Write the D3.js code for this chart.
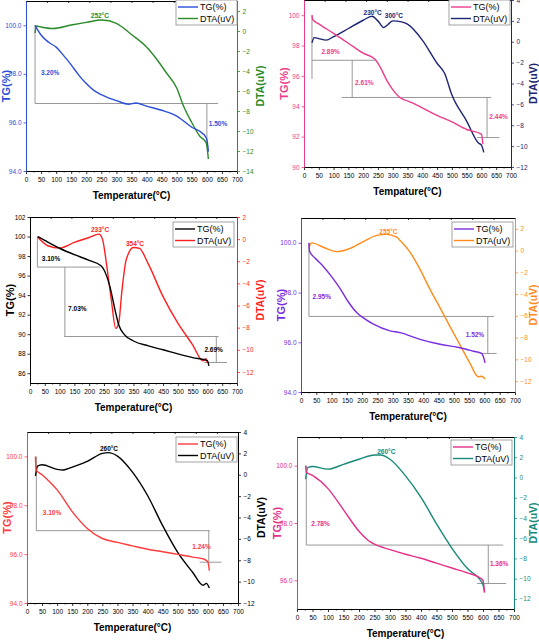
<!DOCTYPE html>
<html>
<head>
<meta charset="utf-8">
<script src="https://cdn.jsdelivr.net/npm/d3@7"></script>
<style>
  body { margin: 0; background: #fff; }
  svg { display: block; font-family: "Liberation Sans", Arial, sans-serif; }
</style>
</head>
<body>
<script>
const width = 539;
const height = 640;

// shared x ticks
const xTicks = [0, 50, 100, 150, 200, 250, 300, 350, 400, 450, 500, 550, 600, 650, 700];

// panel 1 (top left)
const tgT1 = [30, 50, 75, 100, 125, 150, 175, 200, 225, 250, 275, 300, 340, 365, 400, 450, 500, 550, 590, 600, 605];
const tg1 = [100, 99.6, 99.3, 99.1, 98.75, 98.37, 97.95, 97.6, 97.32, 97.14, 97.0, 96.9, 96.75, 96.8, 96.67, 96.5, 96.26, 95.8, 95.5, 95.3, 94.8];
const dtaT1 = [30, 35, 50, 90, 150, 200, 252, 300, 350, 400, 433, 466, 500, 521, 549, 576, 598, 605];
const dta1 = [-0.2, 0.5, 0.4, 0.25, 0.6, 0.86, 1.1, 0.76, -0.35, -1.6, -2.8, -4.2, -5.7, -7.4, -9.1, -10.5, -11.2, -12.8];
const tgTicks1 = [94, 96, 98, 100];
const dtaTicks1 = [-14, -12, -10, -8, -6, -4, -2, 0, 2];
const guides1 = [[30, 100, 30, 96.78], [30, 96.78, 637, 96.78], [600, 96.78, 600, 95.0]];
const notes1 = [["3.20%", 80, 98.05, "tg"], ["1.50%", 637, 95.96, "tg"], ["252°C", 245, 1.55, "dta"]];

// panel 2 (top right)
const tgT2 = [27, 30, 50, 100, 150, 200, 240, 260, 280, 300, 330, 350, 400, 450, 500, 550, 600, 605];
const tg2 = [100, 99.7, 99.43, 98.8, 98.15, 97.5, 97.1, 96.5, 95.7, 95.1, 94.5, 94.36, 93.9, 93.4, 92.97, 92.47, 92.16, 91.5];
const dtaT2 = [27, 34, 50, 75, 100, 150, 200, 230, 250, 270, 285, 300, 330, 350, 400, 450, 475, 500, 550, 590, 600, 608];
const dta2 = [-0.1, 0.4, 0.3, 0.16, 0.48, 1.27, 2.06, 2.44, 2.0, 1.37, 1.68, 2.0, 1.9, 1.68, 0.16, -2.06, -3.0, -5.08, -7.6, -9.7, -9.9, -10.6];
const tgTicks2 = [90, 92, 94, 96, 98, 100];
const dtaTicks2 = [-12, -10, -8, -6, -4, -2, 0, 2, 4];
const guides2 = [[27, 100, 27, 95.8], [27, 97.03, 243, 97.03], [163, 97.03, 163, 94.58], [127, 94.58, 633, 94.58], [619, 94.58, 619, 91.94], [585, 91.94, 661, 91.94]];
const notes2 = [["2.89%", 90, 97.58, "tg"], ["2.61%", 204, 95.57, "tg"], ["2.44%", 658, 93.35, "tg"], ["230°C", 232, 2.76, "dta"], ["300°C", 304, 2.5, "dta"]];

// panel 3 (middle left)
const tgT3 = [26, 50, 100, 150, 200, 240, 250, 270, 290, 300, 320, 350, 400, 450, 500, 550, 600, 605];
const tg3 = [100, 99.6, 98.8, 98.14, 97.56, 97.0, 96.6, 94.9, 92.15, 90.96, 89.93, 89.3, 88.8, 88.4, 87.98, 87.6, 87.3, 86.75];
const dtaT3 = [26, 40, 60, 100, 150, 200, 233, 245, 260, 275, 290, 300, 310, 325, 350, 370, 400, 450, 500, 550, 585, 595, 600];
const dta3 = [0.2, -0.2, -0.6, -0.8, -0.3, 0.15, 0.45, 0, -2.5, -5.5, -8.06, -7.6, -4.9, -1.9, -0.75, -0.84, -2.24, -5.2, -7.6, -9.55, -11.0, -10.8, -11.2];
const tgTicks3 = [86, 88, 90, 92, 94, 96, 98, 100, 102];
const dtaTicks3 = [-12, -10, -8, -6, -4, -2, 0, 2];
const guides3 = [[25, 100, 25, 96.87], [25, 96.87, 237, 96.87], [118, 96.87, 118, 89.76], [116, 89.76, 638, 89.76], [630, 89.76, 630, 87.1], [589, 87.1, 666, 87.1]];
const notes3 = [["3.10%", 71, 97.7, "tg"], ["7.03%", 160, 92.67, "tg"], ["2.69%", 621, 88.46, "tg"], ["233°C", 237, 0.9, "dta"], ["354°C", 355, -0.36, "dta"]];

// panel 4 (middle right)
const tgT4 = [26, 28, 46, 73, 100, 128, 155, 182, 204, 237, 291, 324, 389, 455, 520, 564, 591, 596, 602];
const tg4 = [100, 99.66, 99.39, 99.05, 98.64, 98.16, 97.62, 97.2, 96.98, 96.73, 96.46, 96.39, 96.12, 95.92, 95.78, 95.64, 95.55, 95.44, 95.17];
const dtaT4 = [26, 35, 73, 117, 155, 210, 248, 280, 313, 324, 357, 389, 422, 455, 487, 520, 553, 580, 591, 602];
const dta4 = [0.3, 0.71, 0.31, -0.09, 0.15, 0.93, 1.4, 1.49, 1.24, 0.93, -0.16, -1.7, -3.56, -5.26, -6.96, -8.67, -10.37, -11.6, -11.55, -11.8];
const tgTicks4 = [94, 96, 98, 100];
const dtaTicks4 = [-12, -10, -8, -6, -4, -2, 0, 2];
const guides4 = [[26, 100, 26, 97.04], [26, 97.04, 631, 97.04], [611, 97.04, 611, 95.55], [591, 95.55, 640, 95.55]];
const notes4 = [["2.95%", 68, 97.86, "tg"], ["1.52%", 569, 96.32, "tg"], ["255°C", 286, 1.8, "dta"]];

// panel 5 (bottom left)
const tgT5 = [28, 30, 50, 80, 100, 150, 200, 250, 300, 350, 400, 450, 500, 550, 590, 600, 605];
const tg5 = [100, 99.45, 99.25, 98.9, 98.63, 97.74, 97.05, 96.64, 96.48, 96.34, 96.2, 96.1, 95.99, 95.88, 95.78, 95.68, 95.32];
const dtaT5 = [28, 35, 50, 100, 120, 150, 200, 250, 270, 300, 350, 400, 450, 500, 550, 585, 595, 605];
const dta5 = [-0.1, 0.8, 0.94, 0.5, 0.44, 0.72, 1.25, 2.0, 2.07, 1.75, 0.25, -1.94, -4.76, -7.27, -9.15, -10.34, -10.16, -10.6];
const tgTicks5 = [94, 96, 98, 100];
const dtaTicks5 = [-12, -10, -8, -6, -4, -2, 0, 2, 4];
const guides5 = [[31, 100, 31, 96.96], [31, 96.96, 606, 96.96], [603, 96.96, 603, 95.67], [573, 95.67, 645, 95.67]];
const notes5 = [["3.10%", 83, 97.71, "tg"], ["1.24%", 579, 96.3, "tg"], ["260°C", 272, 2.45, "dta"]];

// panel 6 (bottom right)
const tgT6 = [28, 30, 50, 100, 150, 200, 230, 250, 300, 350, 400, 450, 500, 550, 590, 600, 605];
const tg6 = [100, 99.77, 99.66, 99.2, 98.46, 97.71, 97.39, 97.26, 97.07, 96.91, 96.77, 96.6, 96.43, 96.26, 96.09, 96.0, 95.57];
const dtaT6 = [28, 35, 50, 100, 150, 200, 250, 270, 300, 350, 400, 450, 500, 550, 590, 600, 605];
const dta6 = [-0.16, 1.0, 1.08, 0.82, 1.3, 1.8, 2.22, 2.22, 1.8, 0.16, -1.96, -4.58, -7.0, -9.0, -10.1, -10.6, -11.3];
const tgTicks6 = [96, 98, 100];
const dtaTicks6 = [-12, -10, -8, -6, -4, -2, 0, 2, 4];
const guides6 = [[30, 100, 30, 97.23], [30, 97.23, 665, 97.23], [617, 97.23, 617, 95.89], [581, 95.89, 675, 95.89]];
const notes6 = [["2.78%", 76, 97.97, "tg"], ["1.36%", 652, 96.57, "tg"], ["260°C", 288, 2.6, "dta"]];

// layout: plot box [left, right, top, bottom], legend offset from top right
const panels = [
  { box: [26, 237, 1, 171], tgDom: [94, 101], dtaDom: [-14, 3], tgC: "#2b4ed8", dtaC: "#2a8a2a",
    tgT: tgT1, tg: tg1, dtaT: dtaT1, dta: dta1, tgTicks: tgTicks1, dtaTicks: dtaTicks1,
    guides: guides1, notes: notes1, xTitle: "Temperature(°C)", legend: [-61, -1] },
  { box: [304, 511, 0, 167], tgDom: [90, 101], dtaDom: [-12, 4], tgC: "#ec3d8c", dtaC: "#1c2473",
    tgT: tgT2, tg: tg2, dtaT: dtaT2, dta: dta2, tgTicks: tgTicks2, dtaTicks: dtaTicks2,
    guides: guides2, notes: notes2, xTitle: "Tempature(°C)", legend: [-62, 0] },
  { box: [30, 237, 217, 383], tgDom: [85, 102], dtaDom: [-13, 2], tgC: "#000000", dtaC: "#ff1f1f",
    tgT: tgT3, tg: tg3, dtaT: dtaT3, dta: dta3, tgTicks: tgTicks3, dtaTicks: dtaTicks3,
    guides: guides3, notes: notes3, xTitle: "Temperature(°C)", legend: [-64, 5] },
  { box: [301, 515, 218, 392], tgDom: [94, 101], dtaDom: [-13, 3], tgC: "#7a2de0", dtaC: "#ff8c1a",
    tgT: tgT4, tg: tg4, dtaT: dtaT4, dta: dta4, tgTicks: tgTicks4, dtaTicks: dtaTicks4,
    guides: guides4, notes: notes4, xTitle: "Temperature(°C)", legend: [-63, 4] },
  { box: [27, 238, 432, 603], tgDom: [94, 101], dtaDom: [-12, 4], tgC: "#ff3b3b", dtaC: "#000000",
    tgT: tgT5, tg: tg5, dtaT: dtaT5, dta: dta5, tgTicks: tgTicks5, dtaTicks: dtaTicks5,
    guides: guides5, notes: notes5, xTitle: "Temperature(°C)", legend: [-62, 5] },
  { box: [297, 514, 437, 609], tgDom: [95, 101], dtaDom: [-13, 4], tgC: "#e6308a", dtaC: "#168a78",
    tgT: tgT6, tg: tg6, dtaT: dtaT6, dta: dta6, tgTicks: tgTicks6, dtaTicks: dtaTicks6,
    guides: guides6, notes: notes6, xTitle: "Temperature(°C)", legend: [-63, 3] }
];

const svg = d3.select("body").append("svg")
  .attr("width", width)
  .attr("height", height);

function styleAxis(sel, color) {
  sel.select(".domain").attr("stroke", color).attr("stroke-width", 1);
  sel.selectAll(".tick line").attr("stroke", color).attr("stroke-width", 0.8);
  sel.selectAll(".tick text").attr("fill", color).attr("font-size", 6.5);
}

panels.forEach(p => {
  const [x0, x1, y0, y1] = p.box;
  const x = d3.scaleLinear().domain([0, 700]).range([x0, x1]);
  const yL = d3.scaleLinear().domain(p.tgDom).range([y1, y0]);
  const yR = d3.scaleLinear().domain(p.dtaDom).range([y1, y0]);
  const g = svg.append("g");

  // step guides for mass loss
  g.append("g").selectAll("line")
    .data(p.guides)
    .join("line")
    .attr("x1", d => x(d[0])).attr("y1", d => yL(d[1]))
    .attr("x2", d => x(d[2])).attr("y2", d => yL(d[3]))
    .attr("stroke", "#8c8c8c")
    .attr("stroke-width", 0.9);

  const lineFor = ys => d3.line()
    .x(d => x(d[0]))
    .y(d => ys(d[1]))
    .curve(d3.curveMonotoneX);

  g.append("path")
    .datum(d3.zip(p.dtaT, p.dta))
    .attr("fill", "none")
    .attr("stroke", p.dtaC)
    .attr("stroke-width", 1.4)
    .attr("d", lineFor(yR));

  g.append("path")
    .datum(d3.zip(p.tgT, p.tg))
    .attr("fill", "none")
    .attr("stroke", p.tgC)
    .attr("stroke-width", 1.4)
    .attr("d", lineFor(yL));

  // top frame with inner ticks
  const top = g.append("g")
    .attr("transform", `translate(0,${y0})`)
    .call(d3.axisTop(d3.scaleLinear().domain([0, 10]).range([x0, x1]))
      .ticks(10).tickSize(-2).tickSizeOuter(0).tickFormat(""));
  styleAxis(top, "#000");

  // bottom axis
  const bottom = g.append("g")
    .attr("transform", `translate(0,${y1})`)
    .call(d3.axisBottom(x).tickValues(xTicks).tickSize(3).tickSizeOuter(0).tickPadding(3));
  styleAxis(bottom, "#000");
  g.append("g")
    .attr("transform", `translate(0,${y1})`)
    .call(d3.axisBottom(x).tickValues(xTicks.slice(0, -1).map(v => v + 25)).tickSize(1.5).tickSizeOuter(0).tickFormat(""))
    .call(s => { s.select(".domain").remove(); s.selectAll("line").attr("stroke", "#000").attr("stroke-width", 0.8); });

  // left axis (TG)
  const left = g.append("g")
    .attr("transform", `translate(${x0},0)`)
    .call(d3.axisLeft(yL).tickValues(p.tgTicks).tickSize(2.5).tickSizeOuter(0).tickPadding(2));
  styleAxis(left, p.tgC);

  // right axis (DTA)
  const right = g.append("g")
    .attr("transform", `translate(${x1},0)`)
    .call(d3.axisRight(yR).tickValues(p.dtaTicks).tickSize(3).tickSizeOuter(0).tickPadding(2.5));
  styleAxis(right, p.dtaC);

  // axis titles
  g.append("text")
    .attr("x", (x0 + x1) / 2)
    .attr("y", y1 + 24)
    .attr("text-anchor", "middle")
    .attr("dominant-baseline", "central")
    .attr("font-size", 10)
    .attr("font-weight", "bold")
    .text(p.xTitle);

  g.append("text")
    .attr("transform", `translate(${Math.max(x0 - 20, 6)},${(y0 + y1) / 2}) rotate(-90)`)
    .attr("text-anchor", "middle")
    .attr("dominant-baseline", "central")
    .attr("font-size", 11)
    .attr("font-weight", "bold")
    .attr("fill", p.tgC)
    .text("TG(%)");

  g.append("text")
    .attr("transform", `translate(${Math.min(x1 + 23, width - 6)},${(y0 + y1) / 2}) rotate(-90)`)
    .attr("text-anchor", "middle")
    .attr("dominant-baseline", "central")
    .attr("font-size", 10.5)
    .attr("font-weight", "bold")
    .attr("fill", p.dtaC)
    .text("DTA(uV)");

  // annotations
  g.append("g").selectAll("text")
    .data(p.notes)
    .join("text")
    .attr("x", d => x(d[1]))
    .attr("y", d => d[3] === "tg" ? yL(d[2]) : yR(d[2]))
    .attr("text-anchor", "middle")
    .attr("dominant-baseline", "central")
    .attr("font-size", 6.5)
    .attr("font-weight", "bold")
    .attr("fill", d => d[3] === "tg" ? p.tgC : p.dtaC)
    .text(d => d[0]);

  // legend
  const lg = g.append("g")
    .attr("transform", `translate(${x1 + p.legend[0]},${y0 + p.legend[1]})`);
  lg.append("rect")
    .attr("width", 61).attr("height", 25)
    .attr("fill", "#fff")
    .attr("stroke", "#8c8c8c")
    .attr("stroke-width", 0.8);
  [["TG(%)", p.tgC, 7], ["DTA(uV)", p.dtaC, 18.5]].forEach(([label, c, ly]) => {
    lg.append("line")
      .attr("x1", 2).attr("x2", 22)
      .attr("y1", ly).attr("y2", ly)
      .attr("stroke", c).attr("stroke-width", 1.4);
    lg.append("text")
      .attr("x", 24).attr("y", ly)
      .attr("dominant-baseline", "central")
      .attr("font-size", 9)
      .text(label);
  });
});
</script>
</body>
</html>
